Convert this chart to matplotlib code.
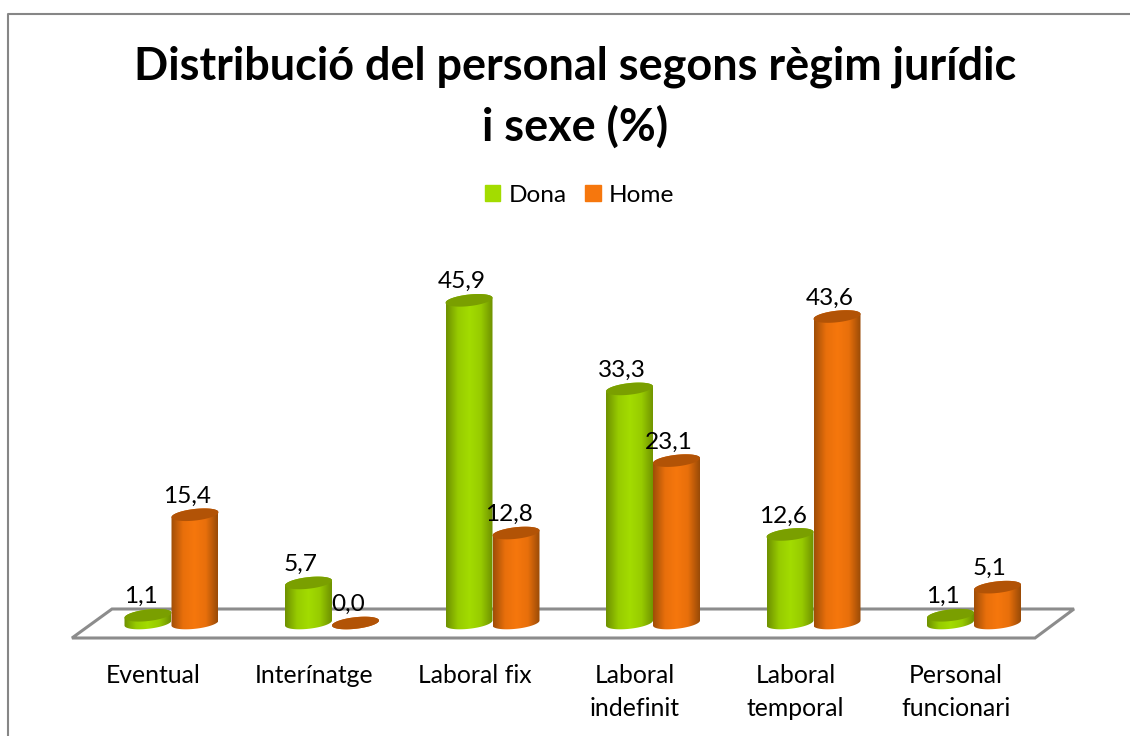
import numpy as np
import matplotlib
matplotlib.use("Agg")
import matplotlib.pyplot as plt
from matplotlib.colors import LinearSegmentedColormap
from matplotlib.patches import Patch, Polygon

plt.rcParams["font.family"] = ["Lato", "DejaVu Sans"]

categories = ["Eventual", "Interínatge", "Laboral fix", "Laboral\nindefinit",
              "Laboral\ntemporal", "Personal\nfuncionari"]
dona = [1.1, 5.7, 45.9, 33.3, 12.6, 1.1]
home = [15.4, 0.0, 12.8, 23.1, 43.6, 5.1]

W, H = 1130, 736
GROUP_PX = 160.5      # px between groups
UNIT_PX = 7.03        # px per percent
X0_PX, Y0_PX = 171.5, 623
BAR_W = 47 / GROUP_PX
LABEL_DX = -7.5       # value labels sit left of the bars, px

# edge, shoulder, centre, shoulder, edge, top face
GREEN = ("#6f9100", "#97cb00", "#a3dc00", "#97cb00", "#6f9100", "#7a9f00")
ORANGE = ("#a04e07", "#e86f0b", "#f6770d", "#e86f0b", "#9a4b07", "#b25306")


def fx(x):
    return x / W


def fy(y):
    return 1 - y / H


def ellipse(cx, cy, t):
    a = BAR_W / 2
    b = 5.8 / UNIT_PX
    s = 2.5 / UNIT_PX  # top surface rises to the right
    return cx + a * np.cos(t), cy + b * np.sin(t) + s * np.cos(t)


def cylinder(ax, cx, val, cols):
    cmap = LinearSegmentedColormap.from_list(
        "c", list(zip([0, 0.25, 0.5, 0.75, 1], cols[:5])))
    t_lo = np.linspace(np.pi, 2 * np.pi, 40)
    t_hi = np.linspace(0, np.pi, 40)
    xb, yb = ellipse(cx, 0, t_lo)
    xt, yt = ellipse(cx, val, t_hi)
    body = Polygon(np.column_stack([np.r_[xb, xt], np.r_[yb, yt]]),
                   closed=True, transform=ax.transData, fc="none", ec="none")
    ax.add_patch(body)
    im = ax.imshow(np.linspace(0, 1, 64).reshape(1, -1), cmap=cmap, aspect="auto",
                   extent=(cx - BAR_W / 2, cx + BAR_W / 2, -3, val + 3),
                   interpolation="bilinear", zorder=2)
    im.set_clip_path(body)
    x, y = ellipse(cx, val, np.linspace(0, 2 * np.pi, 80))
    ax.fill(x, y, color=cols[5], lw=0, zorder=2)


fig = plt.figure(figsize=(W / 100, H / 100), dpi=100)
ax = fig.add_axes([0, 0, 1, 1])
ax.axis("off")

# outer frame and floor
fig.add_artist(plt.Line2D([fx(8), fx(8), fx(W)], [fy(H), fy(14), fy(14)],
                          color="#868686", lw=1.5))
ax.add_patch(Polygon([(fx(72), fy(638)), (fx(1035), fy(638)), (fx(1074), fy(609)), (fx(112), fy(609))],
                     closed=True, fc="white", ec="#8c8c8c", lw=2.2,
                     transform=fig.transFigure, zorder=1))

for i in range(len(categories)):
    cx_d = i - BAR_W / 2
    cx_h = i + BAR_W / 2
    cylinder(ax, cx_d, dona[i], GREEN)
    cylinder(ax, cx_h, home[i], ORANGE)
    ax.text(cx_d + LABEL_DX / GROUP_PX, dona[i] + 18.5 / UNIT_PX, f"{dona[i]:.1f}".replace(".", ","),
            ha="center", va="center", fontsize=17.6, color="black", zorder=5)
    ax.text(cx_h + LABEL_DX / GROUP_PX, home[i] + 18.5 / UNIT_PX, f"{home[i]:.1f}".replace(".", ","),
            ha="center", va="center", fontsize=17.6, color="black", zorder=5)
    ax.text(i - 18 / GROUP_PX, -(664 - Y0_PX) / UNIT_PX, categories[i], ha="center", va="top",
            fontsize=17.8, color="black", linespacing=1.55)

ax.set_xlim(-X0_PX / GROUP_PX, (W - X0_PX) / GROUP_PX)
ax.set_ylim(-(H - Y0_PX) / UNIT_PX, Y0_PX / UNIT_PX)

fig.text(fx(575), fy(97), "Distribució del personal segons règim jurídic\ni sexe (%)",
         ha="center", va="center", fontsize=32.4, fontweight="bold", color="black", linespacing=1.47)

ax.legend(handles=[Patch(color=GREEN[2], label="Dona"), Patch(color=ORANGE[2], label="Home")],
          ncol=2, frameon=False, fontsize=17.6, loc="center", bbox_to_anchor=(fx(580), fy(195)),
          handlelength=0.62, handleheight=0.62, handletextpad=0.35, columnspacing=0.75, borderpad=0)

fig.savefig("out.png", dpi=100)
